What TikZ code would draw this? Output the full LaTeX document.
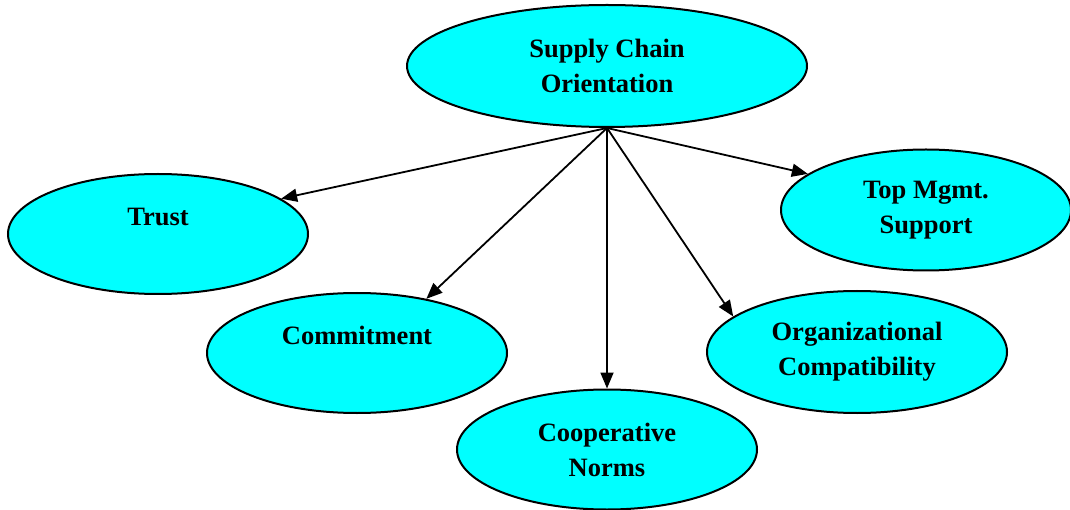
\documentclass[tikz,border=0pt]{standalone}
\usepackage{fontspec}
\setmainfont{Liberation Serif}
\usetikzlibrary{shapes.geometric,arrows.meta}
\definecolor{cyanfill}{RGB}{0,255,255}
\tikzset{
  oval/.style={ellipse, draw=black, line width=2pt, fill=cyanfill,
    inner sep=0pt, align=center,
    font=\fontsize{26.5}{35}\selectfont\bfseries},
  link/.style={line width=1.8pt, -{Triangle[length=16pt,width=13pt]}}
}
\begin{document}
\begin{tikzpicture}[x=1pt,y=-1pt]
\useasboundingbox (0,0) rectangle (1070,510);
\node[oval, minimum width=400pt, minimum height=122pt] (sco) at (607,66) {Supply Chain\\Orientation};
\node[oval, minimum width=300pt, minimum height=120pt] (trust) at (158,234) {Trust\\\mbox{}};
\node[oval, minimum width=300pt, minimum height=120pt] (commit) at (357,353) {Commitment\\\mbox{}};
\node[oval, minimum width=300pt, minimum height=120pt] (coop) at (607,449.5) {Cooperative\\Norms};
\node[oval, minimum width=300pt, minimum height=122pt] (org) at (857,352) {Organizational\\Compatibility};
\node[oval, minimum width=290pt, minimum height=121pt] (top) at (926,210) {Top Mgmt.\\Support};
\draw[link] (sco.south) -- (trust.16.5);
\draw[link] (sco.south) -- (commit.38);
\draw[link] (sco.south) -- (coop.north);
\draw[link] (sco.south) -- (org.164.4);
\draw[link] (sco.south) -- (top.163);
\end{tikzpicture}
\end{document}
